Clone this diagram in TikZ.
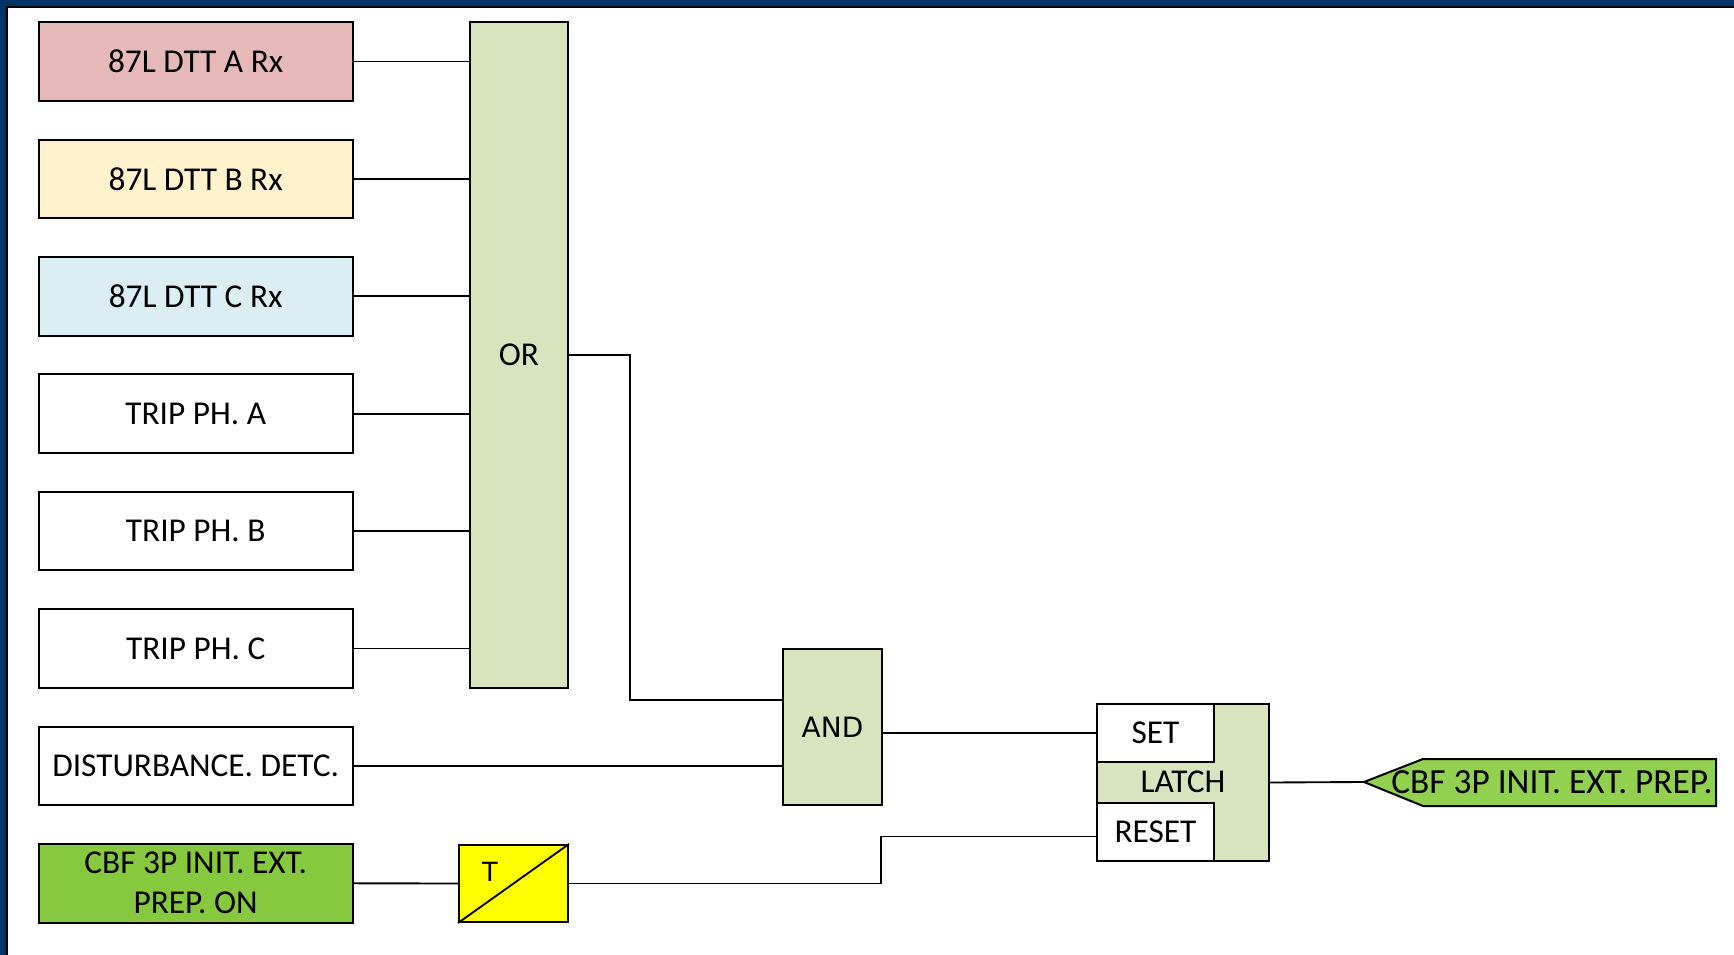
\documentclass[tikz,border=0pt]{standalone}
\usepackage{fontspec}
\setmainfont{Carlito}
\newfontfamily\arialfont{Liberation Sans}
\newfontfamily\dejafont{DejaVu Sans}
\definecolor{frameblue}{HTML}{003366}
\definecolor{pinkA}{HTML}{E6B9B8}
\definecolor{creamB}{HTML}{FFF2CC}
\definecolor{skyC}{HTML}{DAEEF3}
\definecolor{sage}{HTML}{D7E4BD}
\definecolor{greenOn}{HTML}{86C83E}
\definecolor{greenTag}{HTML}{92D050}
\definecolor{tyellow}{HTML}{FFFF00}
\tikzset{
  px/.style={x=0.75pt,y=-0.75pt},
  inbox/.style={draw, line width=1.5pt, minimum width=235.5pt, minimum height=58.9pt,
    inner sep=0pt, font=\fontsize{25}{30}\selectfont, align=center},
  gate/.style={draw, line width=1.5pt, fill=sage, inner sep=0pt,
    font=\fontsize{25}{30}\selectfont},
  wire/.style={line width=1.4pt},
  lbl/.style={inner sep=0pt, font=\fontsize{25}{30}\selectfont}
}
\begin{document}
\begin{tikzpicture}[px]
\useasboundingbox (0,0) rectangle (1734,955);
\fill[white] (0,0) rectangle (1734,955);
% frame bands along the top and left edges
\fill[frameblue] (0,0) rectangle (1734,6);
\fill[black] (6,6) rectangle (1734,8);
\fill[frameblue] (0,0) rectangle (6,955);
\fill[black] (6,6) rectangle (8,955);

% input signals
\node[inbox, fill=pinkA]  (dttA) at (195.7,61.5)  {87L DTT A Rx};
\node[inbox, fill=creamB] (dttB) at (195.7,178.9) {87L DTT B Rx};
\node[inbox, fill=skyC]   (dttC) at (195.7,296.3) {87L DTT C Rx};
\node[inbox, fill=white]  (trA)  at (195.7,413.7) {TRIP PH. A};
\node[inbox, fill=white]  (trB)  at (195.7,531.1) {TRIP PH. B};
\node[inbox, fill=white]  (trC)  at (195.7,648.5) {TRIP PH. C};
\node[inbox, fill=white]  (dist) at (195.7,765.9) {DISTURBANCE. DETC.};
\node[inbox, fill=greenOn] (prepon) at (195.7,883.3) {CBF 3P INIT. EXT.\\PREP. ON};

% OR gate
\node[gate, minimum width=73.5pt, minimum height=499.3pt] (orgate) at (519,355) {OR};

% AND gate
\node[gate, minimum width=74.25pt, minimum height=117pt,
  font=\dejafont\fontsize{21}{26}\selectfont] (andgate) at (832.5,727) {AND};

% timer
\node[draw, line width=1.5pt, fill=tyellow, minimum width=81.75pt, minimum height=57.75pt,
  inner sep=0pt] (timer) at (513.5,883.5) {};
\draw[line width=1.4pt] (timer.south west) -- (timer.north east);
\node[lbl, font=\arialfont\fontsize{21}{26}\selectfont] (tlabel) at (490,872) {T};

% latch
\node[gate, minimum width=128.6pt, minimum height=117.4pt] (latch) at (1183,782.5) {};
\node[draw, line width=1.5pt, fill=white, minimum width=87.75pt, minimum height=43.5pt,
  inner sep=0pt, font=\fontsize{25}{30}\selectfont] (set) at (1155.5,733) {SET};
\node[draw, line width=1.5pt, fill=white, minimum width=87.75pt, minimum height=43.5pt,
  inner sep=0pt, font=\fontsize{25}{30}\selectfont] (reset) at (1155.5,832) {RESET};
\node[lbl] (latchlabel) at (1183,782) {LATCH};

% output tag
\coordinate (tip) at (1364,782);
\draw[line width=1.5pt, fill=greenTag] (tip) -- (1423,759) -- (1716,759) -- (1716,806) -- (1423,806) -- cycle;
\node[lbl, font=\fontsize{26.5}{30}\selectfont] (outtag) at (1552,782) {CBF 3P INIT. EXT. PREP.};

% wiring
\foreach \n in {dttA,dttB,dttC,trA,trB,trC}
  \draw[wire] (\n.east) -- (\n.east -| orgate.west);
\coordinate (ob1) at (630,355);
\coordinate (ob2) at (630,700);
\draw[wire] (orgate.east |- ob1) -- (ob1) -- (ob2) -- (ob2 -| andgate.west);
\draw[wire] (dist.east) -- (dist.east -| andgate.west);
\draw[wire] (andgate.east |- set.west) -- (set.west);
\draw[wire] (prepon.east) -- (timer.west);
\coordinate (tb1) at (881.4,883.5);
\coordinate (tb2) at (881.4,836.5);
\draw[wire] (timer.east) -- (tb1) -- (tb2) -- (tb2 -| reset.west);
\draw[wire] (latch.east) -- (tip);
\end{tikzpicture}
\end{document}
